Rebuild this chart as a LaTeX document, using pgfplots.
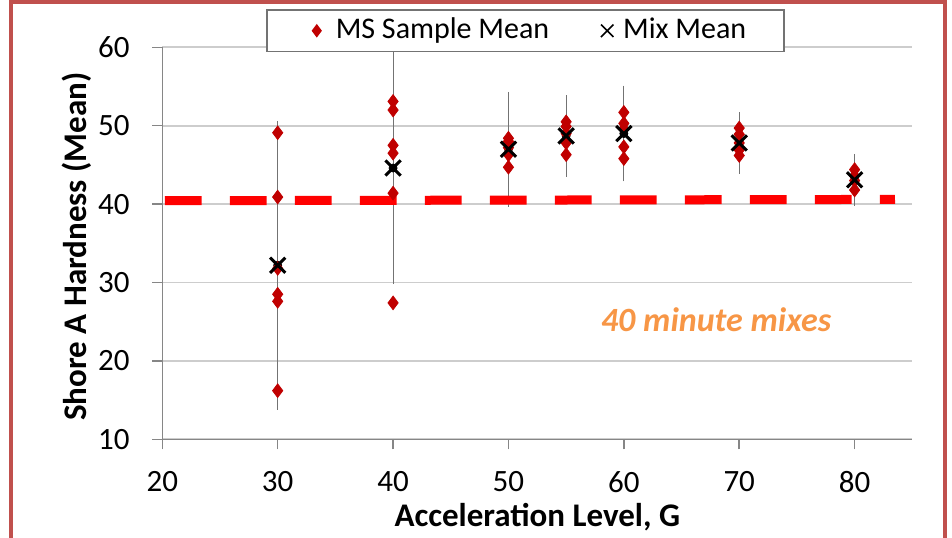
\documentclass[border=0pt]{standalone}
\usepackage{fontspec}
\setmainfont{Carlito}
\usepackage{pgfplots}
\pgfplotsset{compat=1.18}

\definecolor{framered}{RGB}{192,80,77}
\definecolor{msred}{RGB}{192,0,0}
\definecolor{noteorange}{RGB}{247,150,70}
\definecolor{axisgray}{RGB}{134,134,134}
\definecolor{gridgray}{RGB}{205,205,205}

\begin{document}
\begin{tikzpicture}
\begin{axis}[
    at={(0pt,0pt)}, anchor=south west,
    scale only axis, width=375pt, height=196pt,
    xmin=20, xmax=85, ymin=10, ymax=60,
    xtick={20,30,...,80}, ytick={10,20,...,60},
    axis x line*=bottom, axis y line*=left,
    axis line style={axisgray, line width=0.75pt, -},
    tick align=outside, major tick length=5pt,
    tick style={axisgray, line width=0.75pt},
    ymajorgrids, grid style={gridgray, line width=0.9pt},
    /pgf/number format/assume math mode=true,
    tick label style={font=\fontsize{15.5}{18}\selectfont, inner sep=0pt},
    xticklabel style={anchor=north},
    yticklabel style={anchor=east, xshift=-11.15pt},
    xticklabel shift=11pt, yticklabel shift=0pt,
    xlabel={Acceleration Level, G},
    ylabel={Shore A Hardness (Mean)},
    every axis x label/.style={at={(axis description cs:0.5,-0.223)}, anchor=base,
        inner sep=0pt, font=\bfseries\fontsize{16.5}{19}\selectfont},
    every axis y label/.style={at={(axis description cs:-0.1004,0.4918)}, rotate=90, anchor=base,
        inner sep=0pt, font=\bfseries\fontsize{16.5}{19}\selectfont},
    legend columns=2, legend cell align=left,
    legend style={at={(0.1383,1.0969)}, anchor=north west, draw=black!55, line width=0.75pt,
        fill=white, inner xsep=0pt, inner ysep=0pt,
        font=\fontsize{15}{17}\selectfont,
        /tikz/column sep=0pt,
        /tikz/every even column/.append style={column sep=0pt},
        nodes={inner sep=0pt, text height=14pt, text depth=6.7pt}},
]

% error bars of the mix means, drawn first so the marks sit on top
\addplot[forget plot, only marks, mark=none,
    error bars/.cd, y dir=both, y explicit,
    error bar style={black!55, line width=0.55pt},
    error mark options={black!55, line width=0.55pt, mark size=2pt}]
coordinates {
(30,32.2) +- (0,17.9)
(40,44.6) +- (0,14.3)
(50,47.0) +- (0,6.8)
(55,48.7) +- (0,4.7)
(60,49.0) +- (0,5.6)
(70,47.8) +- (0,3.4)
(80,43.1) +- (0,2.8)
};

% MS sample means
\addplot[only marks, mark=diamond*, mark size=3.4pt, color=msred,
    legend image code/.code={
        \draw[msred, fill=msred, mark=diamond*, mark size=2.8pt] plot coordinates {(0pt,0pt)};
        \path[draw=none, fill=none] (-25pt,0pt) -- (9.5pt,0pt);}]
coordinates {
(30,49.1) (30,40.9) (30,31.8) (30,28.5) (30,27.6) (30,16.2)
(40,53.1) (40,52.0) (40,47.5) (40,46.5) (40,41.4) (40,27.4)
(50,48.4) (50,48.0) (50,47.2) (50,46.3) (50,44.7)
(55,50.5) (55,49.9) (55,49.0) (55,47.8) (55,46.3)
(60,51.7) (60,50.3) (60,49.6) (60,47.3) (60,45.8)
(70,49.7) (70,48.9) (70,47.8) (70,46.9) (70,46.2)
(80,44.4) (80,43.6) (80,43.0) (80,41.8)
};
\addlegendentry{MS Sample Mean}

% mix means
\addplot[only marks, mark=x, mark size=5.4pt, black, mark options={line width=1.5pt},
    legend image code/.code={
        \draw[black, mark=x, mark size=4.4pt, mark options={line width=0.8pt}] plot coordinates {(0pt,0pt)};
        \path[draw=none, fill=none] (-29pt,0pt) -- (8pt,0pt);}]
coordinates {
(30,32.2) (40,44.6) (50,47.0) (55,48.7) (60,49.0) (70,47.8) (80,43.1)
};
\addlegendentry{Mix Mean\rule{19pt}{0pt}}

% 40 reference level
\addplot[forget plot, red, line width=4.5pt, dash pattern=on 18.35pt off 14.15pt, mark=none]
coordinates {(20.23,40.43) (83.5,40.6)};

\node[anchor=base, inner sep=0pt, text=noteorange,
    font=\bfseries\itshape\fontsize{17}{20}\selectfont] at (axis cs:68,23.8) {40 minute mixes};

\end{axis}
\draw[framered, line width=2pt] (-75.4pt,-60pt) -- (-75.4pt,218.4pt) -- (391.1pt,218.4pt) -- (391.1pt,-60pt);
\pgfresetboundingbox
\path[use as bounding box] (-81.15pt,-48.85pt) rectangle (394.85pt,219.65pt);
\end{tikzpicture}
\end{document}
